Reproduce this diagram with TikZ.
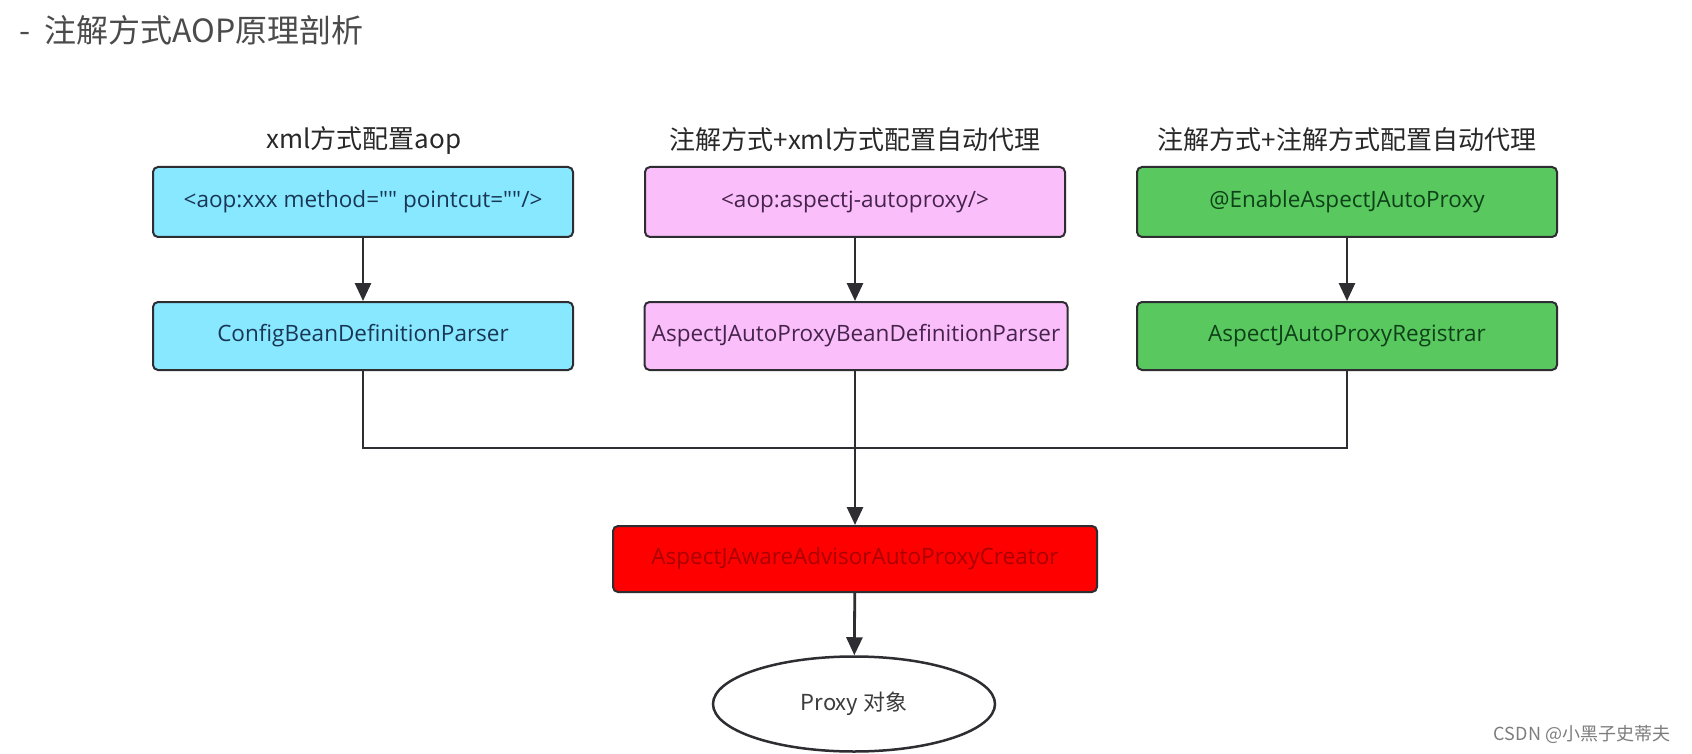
\documentclass[tikz,border=0pt]{standalone}
\usepackage{fontspec}
\setmainfont{Noto Sans CJK SC}
\newfontfamily\boxfont{Open Sans}
\usetikzlibrary{arrows.meta,shapes.geometric}

\definecolor{boxline}{RGB}{45,45,50}
\definecolor{xmlfill}{RGB}{135,232,255}
\definecolor{xmltext}{RGB}{25,55,85}
\definecolor{autofill}{RGB}{250,190,250}
\definecolor{autotext}{RGB}{70,35,75}
\definecolor{annofill}{RGB}{88,200,95}
\definecolor{annotext}{RGB}{15,65,25}
\definecolor{creatorfill}{RGB}{255,0,0}
\definecolor{creatortext}{RGB}{170,0,0}
\definecolor{headtext}{RGB}{40,40,40}

\tikzset{
	box/.style={draw=boxline, line width=2pt, rounded corners=5pt, minimum width=420pt, minimum height=70pt, inner sep=0pt, font=\boxfont\fontsize{22.5}{26}\selectfont},
	head/.style={text=headtext, font=\fontsize{26}{30}\selectfont},
	flow/.style={draw=boxline, line width=2.8pt, -{Triangle[length=18pt,width=16pt]}},
	wire/.style={draw=boxline, line width=2.2pt}
}

\begin{document}
\begin{tikzpicture}[x=1pt, y=-1pt]
	\useasboundingbox[fill=white] (0,0) rectangle (1692,754);

	% Title
	\node[anchor=west, text={rgb,255:red,75;green,75;blue,75}, font=\fontsize{32}{36}\selectfont] (title) at (16,30) {-\hspace{14pt}注解方式AOP原理剖析};

	% xml
	\node[head] (xmlhead) at (364,140) {xml方式配置aop};
	\node[box, fill=xmlfill, text=xmltext] (xml) at (363,202) {<aop:xxx method="" pointcut=""/>};
	\node[box, fill=xmlfill, text=xmltext, minimum height=68pt] (cfg) at (363,336) {ConfigBeanDefinitionParser};

	% annotation + xml
	\node[head] (autohead) at (855,140) {注解方式+xml方式配置自动代理};
	\node[box, fill=autofill, text=autotext] (auto) at (855,202) {<aop:aspectj-autoproxy/>};
	\node[box, fill=autofill, text=autotext, minimum width=423pt, minimum height=68pt] (ajparser) at (856,336) {AspectJAutoProxyBeanDefinitionParser};

	% annotation + annotation
	\node[head] (annohead) at (1347,140) {注解方式+注解方式配置自动代理};
	\node[box, fill=annofill, text=annotext] (enable) at (1347,202) {@EnableAspectJAutoProxy};
	\node[box, fill=annofill, text=annotext, minimum height=68pt] (registrar) at (1347,336) {AspectJAutoProxyRegistrar};

	% creator and proxy
	\node[box, fill=creatorfill, text=creatortext, minimum width=484pt, minimum height=66pt] (creator) at (855,559) {AspectJAwareAdvisorAutoProxyCreator};
	\node[ellipse, draw=boxline, line width=2.5pt, minimum width=282pt, minimum height=95pt, inner sep=0pt, text={rgb,255:red,60;green,60;blue,60}, font=\fontsize{22}{26}\selectfont] (proxy) at (854,704) {Proxy 对象};

	\coordinate (join) at (855,448);

	% connectors
	\draw[flow] (xml) -- (cfg);
	\draw[flow] (auto) -- (auto |- ajparser.north);
	\draw[flow] (enable) -- (registrar);
	\draw[wire] (cfg.south) |- (join) -| (registrar.south);
	\draw[flow] (ajparser.south -| join) -- (creator.north -| join);
	\draw[flow] (creator) -- (proxy);

	% watermark
	\node[text={rgb,255:red,125;green,125;blue,125}, font=\fontsize{18}{21}\selectfont] (mark) at (1582,734) {CSDN @小黑子史蒂夫};
\end{tikzpicture}
\end{document}
